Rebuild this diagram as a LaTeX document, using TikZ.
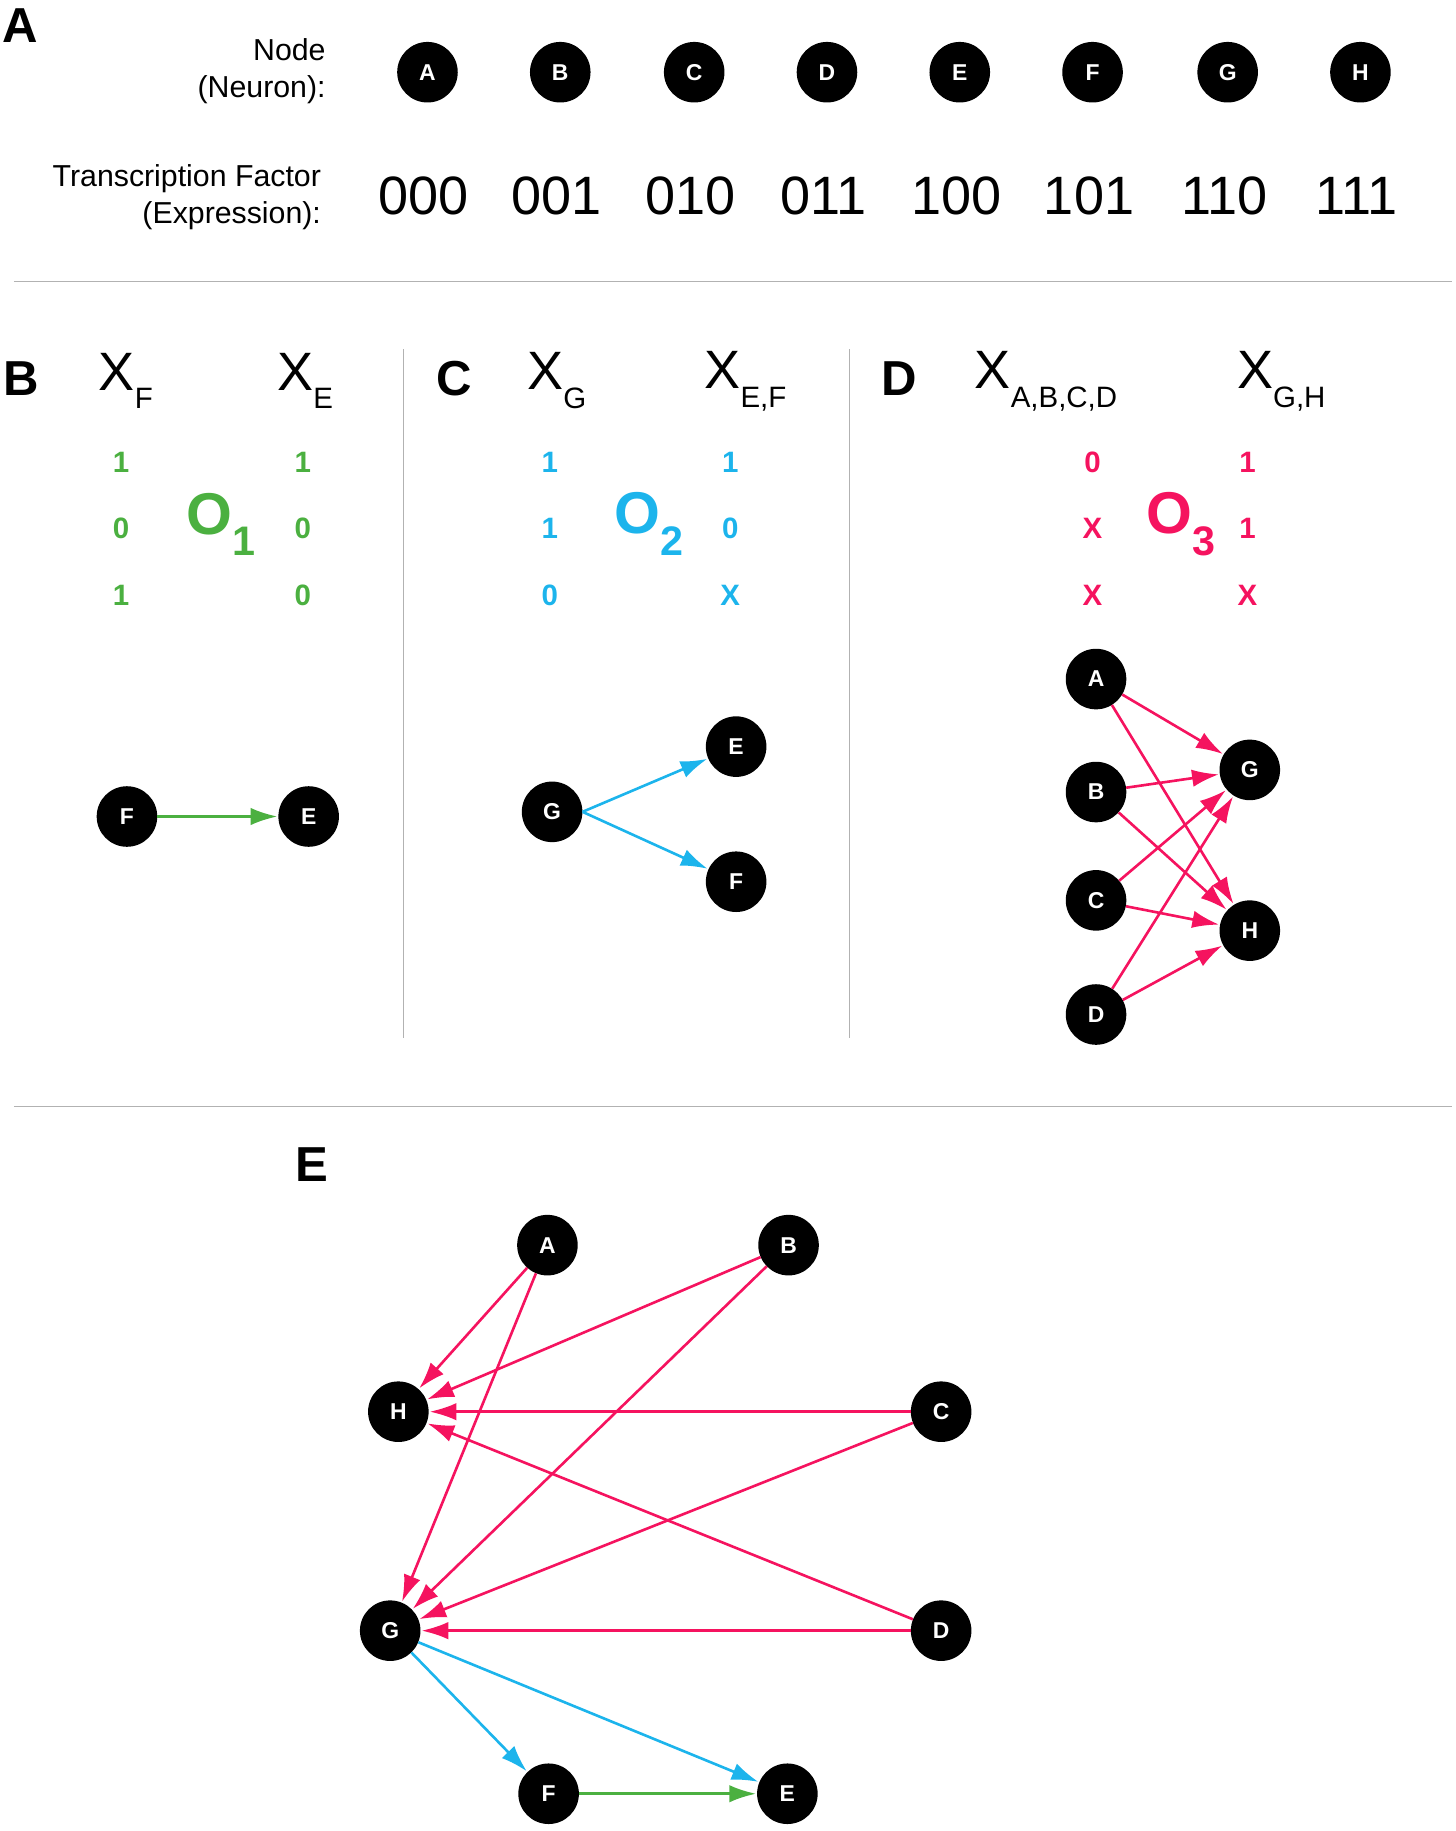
\documentclass[tikz,border=0pt]{standalone}
\usepackage{fontspec}
\setmainfont{Liberation Sans}
\usetikzlibrary{arrows.meta}
\definecolor{cg}{HTML}{4BB040}
\definecolor{cb}{HTML}{1CB4EC}
\definecolor{cp}{HTML}{F5135F}
\newcommand{\sbx}[1]{\raisebox{-0.35em}{\fontsize{36}{36}\selectfont #1}}
\begin{document}
\begin{tikzpicture}[x=0.05cm,y=-0.05cm,
  nd/.style={circle,fill=black,text=white,minimum size=2.6cm,inner sep=0,font=\fontsize{28}{30}\selectfont\bfseries},
  lab/.style={font=\fontsize{37}{45}\selectfont,align=right,anchor=east},
  bin/.style={font=\fontsize{66}{70}\selectfont},
  pl/.style={font=\fontsize{60}{60}\selectfont\bfseries},
  xv/.style={font=\fontsize{66}{66}\selectfont},
  dg/.style={font=\fontsize{36}{36}\selectfont\bfseries},
  bo/.style={font=\fontsize{72}{72}\selectfont\bfseries},
  sep/.style={draw=black!30,line width=1.2pt},
  ar/.style={line width=3.2pt,-{Latex[length=1.15cm,width=0.75cm]}},
  shorten >=1pt]
\useasboundingbox (0,0) rectangle (1250,1572);
% Panel A
\node[pl] (lA) at (17,22) {A};
\node[lab] (ln) at (282,61) {Node\\(Neuron):};
\node[lab] (lt) at (278,169) {Transcription Factor\\(Expression):};
\foreach \n/\x/\b in {A/367/000,B/481/001,C/596/010,D/710/011,E/824/100,F/938/101,G/1054/110,H/1168/111}{
  \node[nd] (a\n) at (\x,62) {\n};
  \node[bin] (b\n) at (\x-3,168) {\b};
}
\coordinate (s1a) at (12,242); \coordinate (s1b) at (1247,242);
\draw[sep] (s1a)--(s1b);
\coordinate (v1a) at (346,300); \coordinate (v1b) at (346,892);
\coordinate (v2a) at (729,300); \coordinate (v2b) at (729,892);
\draw[sep] (v1a)--(v1b); \draw[sep] (v2a)--(v2b);
\coordinate (s2a) at (12,950); \coordinate (s2b) at (1247,950);
\draw[sep] (s2a)--(s2b);
% Panel B
\node[pl] (lB) at (18,325) {B};
\node[xv] (xF) at (108,327) {X\sbx{F}};
\node[xv] (xE) at (262,327) {X\sbx{E}};
\foreach \v/\y [count=\i] in {1/397,0/454,1/511} \node[dg,text=cg] (gF\i) at (104,\y) {\v};
\foreach \v/\y [count=\i] in {1/397,0/454,0/511} \node[dg,text=cg] (gE\i) at (260,\y) {\v};
\node[bo,text=cg] (o1) at (190,450) {O\textsubscript{1}};
\node[nd] (BF) at (109,701) {F};
\node[nd] (BE) at (265,701) {E};
\draw[ar,cg] (BF)--(BE);
% Panel C
\node[pl] (lC) at (390,325) {C};
\node[xv] (xG) at (478,327) {X\sbx{G}};
\node[xv] (xEF) at (640,327) {X\sbx{E,F}};
\foreach \v/\y [count=\i] in {1/397,1/454,0/511} \node[dg,text=cb] (cG\i) at (472,\y) {\v};
\foreach \v/\y [count=\i] in {1/397,0/454,X/511} \node[dg,text=cb] (cE\i) at (627,\y) {\v};
\node[bo,text=cb] (o2) at (557,450) {O\textsubscript{2}};
\node[nd] (CG) at (474,697) {G};
\node[nd] (CE) at (632,641) {E};
\node[nd] (CF) at (632,757) {F};
\draw[ar,cb] (CG.east)--(CE); \draw[ar,cb] (CG.east)--(CF);
% Panel D
\node[pl] (lD) at (772,325) {D};
\node[xv] (xA) at (898,327) {X\sbx{A,B,C,D}};
\node[xv] (xGH) at (1100,327) {X\sbx{G,H}};
\foreach \v/\y [count=\i] in {0/397,X/454,X/511} \node[dg,text=cp] (pA\i) at (938,\y) {\v};
\foreach \v/\y [count=\i] in {1/397,1/454,X/511} \node[dg,text=cp] (pG\i) at (1071,\y) {\v};
\node[bo,text=cp] (o3) at (1014,450) {O\textsubscript{3}};
\foreach \n/\y in {A/583,B/680,C/773,D/871} \node[nd] (D\n) at (941,\y) {\n};
\node[nd] (DG) at (1073,661) {G};
\node[nd] (DH) at (1073,799) {H};
\foreach \n in {A,B,C,D}{\draw[ar,cp] (D\n)--(DG); \draw[ar,cp] (D\n)--(DH);}
% Panel E
\node[pl] (lE) at (268,1000) {E};
\node[nd] (EA) at (470,1069) {A};
\node[nd] (EB) at (677,1069) {B};
\node[nd] (EH) at (342,1212) {H};
\node[nd] (EC) at (808,1212) {C};
\node[nd] (EG) at (335,1400) {G};
\node[nd] (ED) at (808,1400) {D};
\node[nd] (EF) at (471,1540) {F};
\node[nd] (EE) at (676,1540) {E};
\foreach \n in {A,B,C,D}{\draw[ar,cp] (E\n)--(EH); \draw[ar,cp] (E\n)--(EG);}
\draw[ar,cb] (EG)--(EF); \draw[ar,cb] (EG)--(EE);
\draw[ar,cg] (EF)--(EE);
\end{tikzpicture}
\end{document}
